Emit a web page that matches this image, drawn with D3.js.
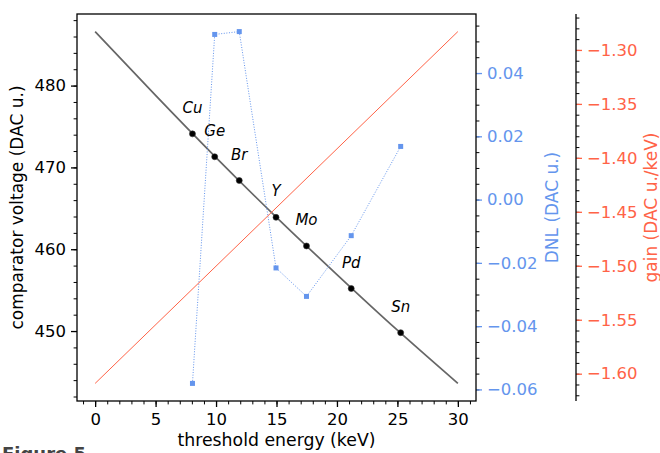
<!DOCTYPE html>
<html>
<head>
<meta charset="utf-8">
<script src="https://cdn.jsdelivr.net/npm/d3@7"></script>
<style>
  html, body { margin: 0; padding: 0; background: #fff; }
  svg { display: block; font-family: "DejaVu Sans", sans-serif; }
</style>
</head>
<body>
<svg id="chart" width="660" height="453"></svg>
<script>
// ---------- data ----------
const elements = ["Cu", "Ge", "Br", "Y", "Mo", "Pd", "Sn"];
const energies = [8.05, 9.89, 11.92, 14.96, 17.48, 21.18, 25.27];
const voltages = [474.1, 471.3, 468.4, 463.9, 460.4, 455.2, 449.8];
const dnl = [-0.0581, 0.0522, 0.0531, -0.0216, -0.0306, -0.0114, 0.0168];
const fitEnergies = [0, 5, 10, 15, 20, 25, 30];
const fitVoltages = [486.6, 478.8, 471.2, 463.9, 456.9, 450.1, 443.6];
const gainEnergies = [0, 30];
const gainValues = [-1.609, -1.283];
const xTicks = [0, 5, 10, 15, 20, 25, 30];
const vTicks = [450, 460, 470, 480];
const dnlTicks = [-0.06, -0.04, -0.02, 0.00, 0.02, 0.04];
const gainTicks = [-1.60, -1.55, -1.50, -1.45, -1.40, -1.35, -1.30];

// ---------- layout ----------
const L = 77, R = 476, T = 14, B = 401, G = 576;
const blue = "#6495ED", red = "#FF6347";
const svg = d3.select("#chart");

function padded(vals) {
  const [a, b] = d3.extent(vals);
  const m = (b - a) * 0.05;
  return [a - m, b + m];
}
const x = d3.scaleLinear().domain(padded(fitEnergies)).range([L, R]);
const yV = d3.scaleLinear().domain(padded(fitVoltages.concat(voltages))).range([B, T]);
const yD = d3.scaleLinear().domain(padded(dnl)).range([B, T]);
const yG = d3.scaleLinear().domain(padded(gainValues)).range([B, T]);

function minorTicks(scale, step) {
  const [a, b] = scale.domain();
  const out = [];
  for (let k = Math.ceil(a / step - 1e-9); k * step <= b + 1e-9; k++) out.push(+(k * step).toFixed(6));
  return out;
}

function styleAxis(g, color, textColor) {
  g.select(".domain").remove();
  g.selectAll(".tick line").attr("stroke", color).attr("stroke-width", 1.3);
  g.selectAll(".tick text").attr("fill", textColor).style("font-size", "16.5px")
    .style("font-family", "DejaVu Sans");
}

// ---------- main axes ----------
const gxm = svg.append("g").attr("transform", `translate(0,${B})`)
  .call(d3.axisBottom(x).tickValues(minorTicks(x, 1)).tickSize(3.4).tickFormat(""));
styleAxis(gxm, "#000", "#000"); gxm.selectAll("line").attr("stroke-width", 1);
const gx = svg.append("g").attr("transform", `translate(0,${B})`)
  .call(d3.axisBottom(x).tickValues(xTicks).tickSize(6).tickPadding(6).tickFormat(d3.format("d")));
styleAxis(gx, "#000", "#000");

const gym = svg.append("g").attr("transform", `translate(${L},0)`)
  .call(d3.axisLeft(yV).tickValues(minorTicks(yV, 2)).tickSize(3.4).tickFormat(""));
styleAxis(gym, "#000", "#000"); gym.selectAll("line").attr("stroke-width", 1);
const gy = svg.append("g").attr("transform", `translate(${L},0)`)
  .call(d3.axisLeft(yV).tickValues(vTicks).tickSize(6).tickPadding(5).tickFormat(d3.format("d")));
styleAxis(gy, "#000", "#000");

// fit curve
svg.append("path")
  .datum(fitEnergies.map((e, i) => [e, fitVoltages[i]]))
  .attr("fill", "none").attr("stroke", "#666").attr("stroke-width", 1.7)
  .attr("d", d3.line().x(d => x(d[0])).y(d => yV(d[1])).curve(d3.curveNatural));

// measured points
svg.append("g").selectAll("circle").data(energies).join("circle")
  .attr("cx", d => x(d)).attr("cy", (d, i) => yV(voltages[i])).attr("r", 3)
  .attr("fill", "#000").attr("stroke", "#333").attr("stroke-width", 0.6);

svg.append("g").selectAll("text").data(elements).join("text")
  .attr("x", (d, i) => x(energies[i])).attr("y", (d, i) => yV(voltages[i]) - 26)
  .attr("text-anchor", "middle").attr("dominant-baseline", "central")
  .style("font-size", "15px").style("font-style", "italic").attr("fill", "#000")
  .text(d => d);

// ---------- DNL axis ----------
const gdm = svg.append("g").attr("transform", `translate(${R},0)`)
  .call(d3.axisRight(yD).tickValues(minorTicks(yD, 0.005)).tickSize(3.4).tickFormat(""));
styleAxis(gdm, "#000", "#000"); gdm.selectAll("line").attr("stroke-width", 1);
const gd = svg.append("g").attr("transform", `translate(${R},0)`)
  .call(d3.axisRight(yD).tickValues(dnlTicks).tickSize(6).tickPadding(5).tickFormat(d3.format(".2f")));
styleAxis(gd, blue, blue);

svg.append("path")
  .datum(energies.map((e, i) => [e, dnl[i]]))
  .attr("fill", "none").attr("stroke", blue).attr("stroke-width", 1)
  .attr("stroke-dasharray", "1,1.6")
  .attr("d", d3.line().x(d => x(d[0])).y(d => yD(d[1])));
svg.append("g").selectAll("rect").data(energies).join("rect")
  .attr("x", d => x(d) - 2.5).attr("y", (d, i) => yD(dnl[i]) - 2.5)
  .attr("width", 5).attr("height", 5).attr("fill", blue);

// ---------- gain axis ----------
const ggm = svg.append("g").attr("transform", `translate(${G},0)`)
  .call(d3.axisRight(yG).tickValues(minorTicks(yG, 0.01)).tickSize(3.4).tickFormat(""));
styleAxis(ggm, "#000", "#000"); ggm.selectAll("line").attr("stroke-width", 1);
const gg = svg.append("g").attr("transform", `translate(${G},0)`)
  .call(d3.axisRight(yG).tickValues(gainTicks).tickSize(6).tickPadding(5).tickFormat(d3.format(".2f")));
styleAxis(gg, red, red);
svg.append("line").attr("x1", G).attr("x2", G).attr("y1", T).attr("y2", B)
  .attr("stroke", "#000").attr("stroke-width", 1.3);

svg.append("path")
  .datum(gainEnergies.map((e, i) => [e, gainValues[i]]))
  .attr("fill", "none").attr("stroke", red).attr("stroke-width", 1)
  .attr("d", d3.line().x(d => x(d[0])).y(d => yG(d[1])));

// frame
svg.append("rect").attr("x", L).attr("y", T).attr("width", R - L).attr("height", B - T)
  .attr("fill", "none").attr("stroke", "#000").attr("stroke-width", 1.3);

// ---------- labels ----------
const midY = (T + B) / 2;
svg.append("text").attr("transform", `translate(23,${midY}) rotate(-90)`)
  .attr("text-anchor", "middle").style("font-size", "17px").attr("fill", "#000")
  .text("comparator voltage (DAC u.)");
svg.append("text").attr("x", (L + R) / 2).attr("y", 446)
  .attr("text-anchor", "middle").style("font-size", "17.3px").attr("fill", "#000")
  .text("threshold energy (keV)");
svg.append("text").attr("transform", `translate(558,${midY}) rotate(-90)`)
  .attr("text-anchor", "middle").style("font-size", "17px").attr("fill", blue)
  .text("DNL (DAC u.)");
svg.append("text").attr("transform", `translate(656.5,${midY}) rotate(-90)`)
  .attr("text-anchor", "middle").style("font-size", "17px").attr("fill", red)
  .text("gain (DAC u./keV)");

svg.append("text").attr("x", 2).attr("y", 460)
  .style("font-size", "18px").style("font-weight", "bold").attr("fill", "#444")
  .text("Figure 5");
</script>
</body>
</html>
